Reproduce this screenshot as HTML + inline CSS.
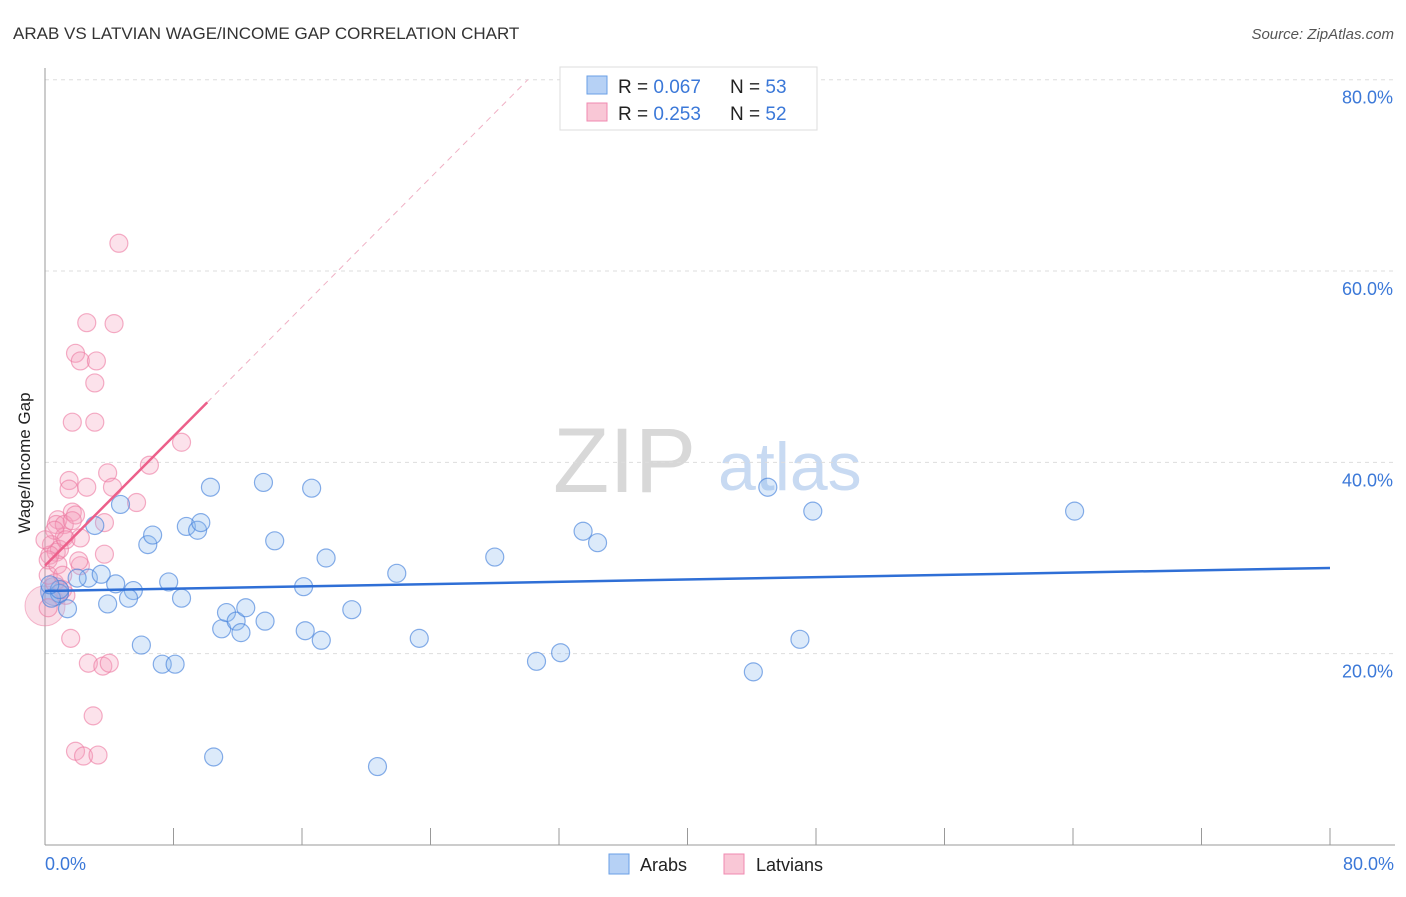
<!DOCTYPE html>
<html><head><meta charset="utf-8"><style>
body{margin:0;background:#fff;font-family:"Liberation Sans",sans-serif}
svg text{font-family:"Liberation Sans",sans-serif}
</style></head><body>
<svg id="c" width="1406" height="892" xmlns="http://www.w3.org/2000/svg">
<text x="13" y="39" font-size="17" fill="#333">ARAB VS LATVIAN WAGE/INCOME GAP CORRELATION CHART</text>
<text x="1394" y="39" font-size="15" fill="#555" font-style="italic" text-anchor="end">Source: ZipAtlas.com</text>
<g>
<text x="553" y="492" font-size="92" fill="#d8d8d8" font-family="Liberation Serif,serif">ZIP</text>
<text x="718" y="490" font-size="68" fill="#c8daf2">atlas</text>
</g>
<g id="grid"></g>
<g id="axes"></g>
<g id="pts"></g>
<g id="lines"></g>
<text x="22" y="455" font-size="17" fill="#222" transform="rotate(-90 30 455)" text-anchor="middle">Wage/Income Gap</text>
<text x="45" y="870" font-size="18" fill="#3b78d8">0.0%</text>
<text x="1394" y="870" font-size="18" fill="#3b78d8" text-anchor="end">80.0%</text>
<g>
<rect x="560" y="67" width="257" height="63" fill="#fff" stroke="#ddd"/>
<rect x="587" y="76" width="20" height="18" fill="#b6d1f5" stroke="#6a9fe6"/>
<text x="618" y="93" font-size="19" fill="#222">R = <tspan fill="#3b78d8">0.067</tspan></text>
<text x="730" y="93" font-size="19" fill="#222">N = <tspan fill="#3b78d8">53</tspan></text>
<rect x="587" y="103" width="20" height="18" fill="#f9c7d6" stroke="#f08ab0"/>
<text x="618" y="120" font-size="19" fill="#222">R = <tspan fill="#3b78d8">0.253</tspan></text>
<text x="730" y="120" font-size="19" fill="#222">N = <tspan fill="#3b78d8">52</tspan></text>
</g>
<g>
<rect x="609" y="854" width="20" height="20" fill="#b6d1f5" stroke="#6a9fe6"/>
<text x="640" y="871" font-size="18" fill="#222">Arabs</text>
<rect x="724" y="854" width="20" height="20" fill="#f9c7d6" stroke="#f08ab0"/>
<text x="756" y="871" font-size="18" fill="#222">Latvians</text>
</g>
</svg>
<script>
const yTicks=[20,40,60,80];
const yTickLabels=["20.0%","40.0%","60.0%","80.0%"];
const xTicks=[8,16,24,32,40,48,56,64,72,80];
const arabX=[3.1,4.7,6.4,6.7,8.8,9.5,9.7,10.3,13.6,16.6,14.3,17.5,21.9,16.1,7.7,8.5,5.5,5.2,4.4,3.9,2.7,2.0,3.5,0.9,1.4,0.4,6.0,7.3,8.1,11.0,11.3,11.9,12.2,12.5,13.7,16.2,17.2,19.1,23.3,28.0,33.5,34.4,30.6,32.1,44.1,47.0,45.0,47.8,64.1,10.5,20.7,0.9,0.3];
const arabY=[33.4,35.6,31.4,32.4,33.3,32.9,33.7,37.4,37.9,37.3,31.8,30.0,28.4,27.0,27.5,25.8,26.6,25.8,27.3,25.2,27.9,27.9,28.3,26.3,24.7,25.8,20.9,18.9,18.9,22.6,24.3,23.4,22.2,24.8,23.4,22.4,21.4,24.6,21.6,30.1,32.8,31.6,19.2,20.1,18.1,21.5,37.4,34.9,34.9,9.2,8.2,26.7,27.2];
const latX=[4.6,2.6,4.3,1.9,2.2,3.2,3.1,1.7,3.1,8.5,6.5,3.9,1.5,1.5,4.2,2.6,5.7,0.8,0.7,1.2,1.7,1.9,1.2,0.4,0.7,0.9,3.7,2.2,2.1,0.3,0.2,0.6,1.3,1.6,2.7,3.6,4.0,3.0,1.9,2.4,3.3,1.1,0.2,0.6,1.3,0.2,0.8,1.1,1.7,2.2,3.7,0.0];
const latY=[62.9,54.6,54.5,51.4,50.6,50.6,48.3,44.2,44.2,42.1,39.7,38.9,38.1,37.2,37.4,37.4,35.8,34.0,33.5,33.5,34.8,34.5,32.2,31.4,30.6,30.9,30.4,29.2,29.7,30.3,29.8,27.4,26.1,21.6,19.0,18.7,19.0,13.5,9.8,9.3,9.4,26.7,24.8,32.9,31.9,28.2,29.3,28.2,33.9,32.1,33.7,31.9];
const arabTrend=[26.55,28.96];
const latTrend={b:29.2,m:1.69,solidEnd:10.1};
const X=v=>45+v*(1285/80), Y=v=>845-v*(765.3/80);
const NS="http://www.w3.org/2000/svg";
function mk(t,a,p){const e=document.createElementNS(NS,t);for(const k in a)e.setAttribute(k,a[k]);p.appendChild(e);return e;}
const g=document.getElementById('grid'),ax=document.getElementById('axes'),pts=document.getElementById('pts'),ln=document.getElementById('lines');
yTicks.forEach((t,i)=>{
 const l=mk('line',{x1:45,x2:1395,y1:Y(t),y2:Y(t),stroke:'#ddd','stroke-dasharray':'4,4'},g);
 
 
 const tx=mk('text',{x:1393,y:Y(t)+24,'font-size':18,fill:'#3b78d8','text-anchor':'end'},g);
 tx.textContent=yTickLabels[i];
 
 
});
mk('line',{x1:45,x2:45,y1:68,y2:845,stroke:'#999'},ax);
mk('line',{x1:45,x2:1395,y1:845,y2:845,stroke:'#999'},ax);
xTicks.forEach(t=>{
 const l=mk('line',{x1:X(t),x2:X(t),y1:828,y2:845,stroke:'#999'},ax);
 
 
});
const bp=mk('circle',{cx:X(0),cy:Y(25),r:20,fill:'rgba(240,150,180,0.3)',stroke:'rgba(236,120,160,0.5)'},pts);


const bb=mk('circle',{cx:X(0.6),cy:Y(26.5),r:14,fill:'rgba(100,150,230,0.35)',stroke:'rgba(70,130,220,0.6)'},pts);


latX.forEach((x,i)=>{
 const c=mk('circle',{cx:X(x),cy:Y(latY[i]),r:9,fill:'rgba(244,160,190,0.3)',stroke:'rgba(236,120,160,0.6)','stroke-width':1.2},pts);
 
 
});
arabX.forEach((x,i)=>{
 const c=mk('circle',{cx:X(x),cy:Y(arabY[i]),r:9,fill:'rgba(140,185,240,0.3)',stroke:'rgba(70,130,220,0.65)','stroke-width':1.2},pts);
 
 
});
const at=mk('line',{x1:X(0),y1:Y(arabTrend[0]),x2:X(80),y2:Y(arabTrend[1]),stroke:'#2f6fd6','stroke-width':2.5},ln);


const le=(80-latTrend.b)/latTrend.m;
const ld=mk('line',{x1:X(latTrend.solidEnd),y1:Y(latTrend.b+latTrend.m*latTrend.solidEnd),x2:X(le),y2:Y(80),stroke:'#f0b0c4','stroke-width':1,'stroke-dasharray':'6,5'},ln);


const ls=mk('line',{x1:X(0),y1:Y(latTrend.b),x2:X(latTrend.solidEnd),y2:Y(latTrend.b+latTrend.m*latTrend.solidEnd),stroke:'#ec5f8a','stroke-width':2.5},ln);


</script>
</body></html>
